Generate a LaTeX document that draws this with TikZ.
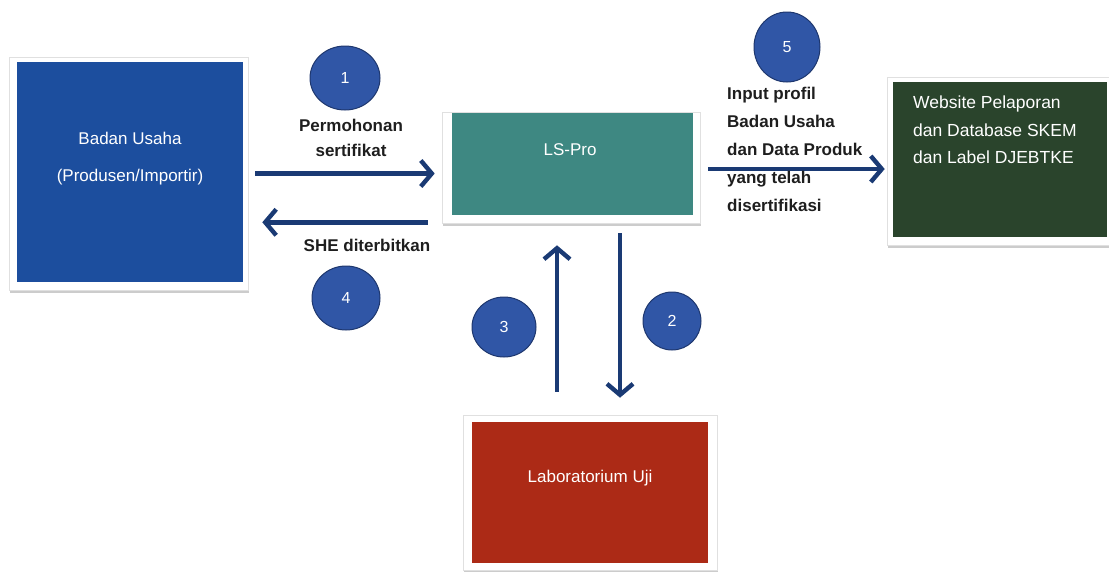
\documentclass[tikz,border=0pt]{standalone}
\usepackage{fontspec}
\setmainfont{Liberation Sans}
\usetikzlibrary{arrows.meta,shapes.geometric,calc,shadows}
\definecolor{boxblue}{RGB}{28,78,158}
\definecolor{boxteal}{RGB}{62,136,130}
\definecolor{boxgreen}{RGB}{42,68,44}
\definecolor{boxred}{RGB}{172,42,22}
\definecolor{arrnavy}{RGB}{26,58,116}
\definecolor{circblue}{RGB}{48,86,166}
\definecolor{circedge}{RGB}{30,55,110}
\definecolor{lbl}{RGB}{30,30,30}
\tikzset{
  frame/.style={draw=black!12,fill=white,line width=0.6pt,drop shadow={shadow xshift=1pt,shadow yshift=-3pt,opacity=0.4}},
  fillbox/.style={inner sep=0pt},
  boxtext/.style={text=white,font=\fontsize{17}{21}\selectfont},
  numc/.style={ellipse,draw=circedge,line width=1pt,fill=circblue,text=white,inner sep=0pt,font=\fontsize{16}{16}\selectfont},
  lab/.style={text=lbl,font=\bfseries\fontsize{17}{25}\selectfont},
  arr/.style={draw=arrnavy,line width=4.4pt,-{Straight Barb[length=11pt,width=26pt,line width=4.4pt]}},
}
\begin{document}
\begin{tikzpicture}[x=1pt,y=-1pt]
\useasboundingbox (0,0) rectangle (1109,571);
% Badan Usaha
\node[frame,minimum width=239pt,minimum height=233pt] (badanF) at (128.5,173.5) {};
\node[fillbox,fill=boxblue,minimum width=226pt,minimum height=220pt] (badan) at (130,172) {};
\node[boxtext,align=center,font=\fontsize{17}{37}\selectfont] (badanT) at (130,158.5) {Badan Usaha\\(Produsen/Importir)};
% LS-Pro
\node[frame,minimum width=258pt,minimum height=111pt] (lsF) at (571,167.5) {};
\node[fillbox,fill=boxteal,minimum width=241pt,minimum height=102pt] (ls) at (572.5,164) {};
\node[boxtext] (lsT) at (570,150) {LS-Pro};
% Website
\node[frame,minimum width=222pt,minimum height=168pt] (webF) at (998,161) {};
\node[fillbox,fill=boxgreen,minimum width=214pt,minimum height=155pt] (web) at (1000,159.5) {};
\node[boxtext,align=left,anchor=north west,font=\fontsize{17.5}{27.5}\selectfont,inner sep=0pt] (webT) at (913,96) {Website Pelaporan\\dan Database SKEM\\dan Label DJEBTKE};
% Laboratorium
\node[frame,minimum width=254pt,minimum height=155pt] (labF) at (590,492.5) {};
\node[fillbox,fill=boxred,minimum width=236pt,minimum height=141pt] (lab) at (590,492.5) {};
\node[boxtext] (labT) at (590,478) {Laboratorium Uji};
% arrows
\draw[arr] ($(badanF.east)+(7,0)$) -- ($(lsF.west |- badanF.east)+(-7,0)$);
\draw[arr] ($(lsF.south west)+(-14,-1)$) -- ($(badanF.east |- lsF.south west)+(14,-1)$);
\draw[arr] ($(labF.north)+(-33,-23)$) -- ($(lsF.south)+(-14,22)$);
\draw[arr] ($(lsF.south)+(49,10)$) -- ($(labF.north)+(30,-17)$);
\draw[arr] ($(lsF.east)+(8,1.5)$) -- ($(webF.west |- lsF.east)+(-2,1.5)$);
% circles
\node[numc,minimum width=70pt,minimum height=64pt] (c1) at (345,78) {1};
\node[numc,minimum width=66pt,minimum height=70pt] (c5) at (787,47) {5};
\node[numc,minimum width=68pt,minimum height=64pt] (c4) at (346,298) {4};
\node[numc,minimum width=64pt,minimum height=60pt] (c3) at (504,327) {3};
\node[numc,minimum width=58pt,minimum height=58pt] (c2) at (672,321) {2};
% labels
\node[lab,align=center] (l1) at (351,137.5) {Permohonan\\sertifikat};
\node[lab] (l4) at (367,245) {SHE diterbitkan};
\node[lab,align=left,anchor=north west,inner sep=0pt,font=\bfseries\fontsize{17}{28}\selectfont] (l5) at (727,87) {Input profil\\Badan Usaha\\dan Data Produk\\yang telah\\disertifikasi};
\end{tikzpicture}
\end{document}
